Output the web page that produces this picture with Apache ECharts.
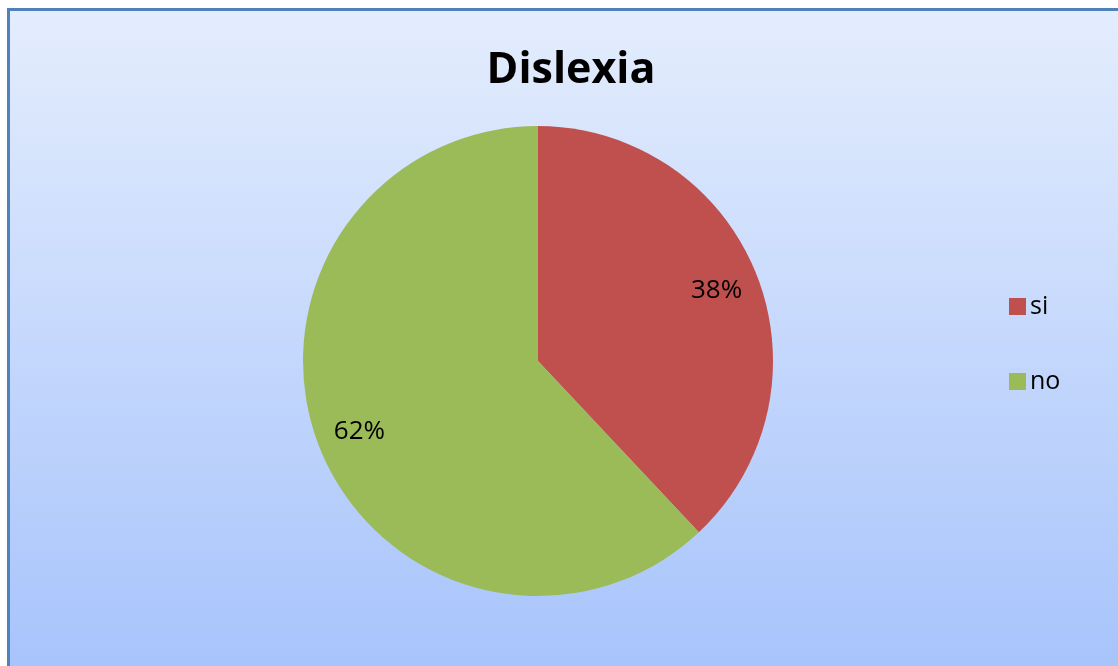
<!DOCTYPE html>
<html><head><meta charset="utf-8">
<script src="https://cdn.jsdelivr.net/npm/echarts@6/dist/echarts.min.js"></script>
<style>html,body{margin:0;padding:0;background:#fff;}#c{width:1118px;height:666px;}</style>
</head><body><div id="c"></div>
<script>
const titleText = 'Dislexia';
const categories = ['si', 'no'];
const values = [38, 62];
const colors = ['#c0504d', '#9bbb59'];

const data = categories.map((n, i) => ({ name: n, value: values[i], itemStyle: { color: colors[i] } }));
const chart = echarts.init(document.getElementById('c'));
chart.setOption({
  animation: false,
  graphic: [{
    type: 'rect', z: -10, silent: true,
    shape: { x: 8.5, y: 9.5, width: 1200, height: 700 },
    style: {
      fill: new echarts.graphic.LinearGradient(0, 0, 0, 1, [
        { offset: 0, color: '#e4edfd' }, { offset: 1, color: '#a3c1fb' }
      ]),
      stroke: '#4f81bd', lineWidth: 3
    }
  }],
  title: {
    text: titleText, left: 566, top: 44, textAlign: 'center',
    textStyle: { fontFamily: 'Open Sans', fontWeight: 'bold', fontSize: 43, color: '#000' }
  },
  legend: {
    orient: 'vertical', left: 1004, top: 289, itemWidth: 17, itemHeight: 17, itemGap: 50,
    icon: 'rect', data: categories,
    textStyle: { fontFamily: 'Open Sans', fontSize: 25, color: '#000', padding: [0, 0, 0, -1] }
  },
  series: [{
    type: 'pie', center: [538, 361], radius: [0, 235], startAngle: 90, clockwise: true,
    silent: true, label: { show: false }, labelLine: { show: false }, data: data
  }, {
    type: 'pie', center: [538, 361], radius: [143, 235], startAngle: 90, clockwise: true,
    silent: true,
    label: { show: true, position: 'inside', formatter: '{d}%', fontFamily: 'Open Sans', fontSize: 26, color: '#000' },
    labelLine: { show: false },
    data: categories.map((n, i) => ({ name: n, value: values[i], itemStyle: { color: 'rgba(0,0,0,0)' } }))
  }]
});
</script></body></html>
